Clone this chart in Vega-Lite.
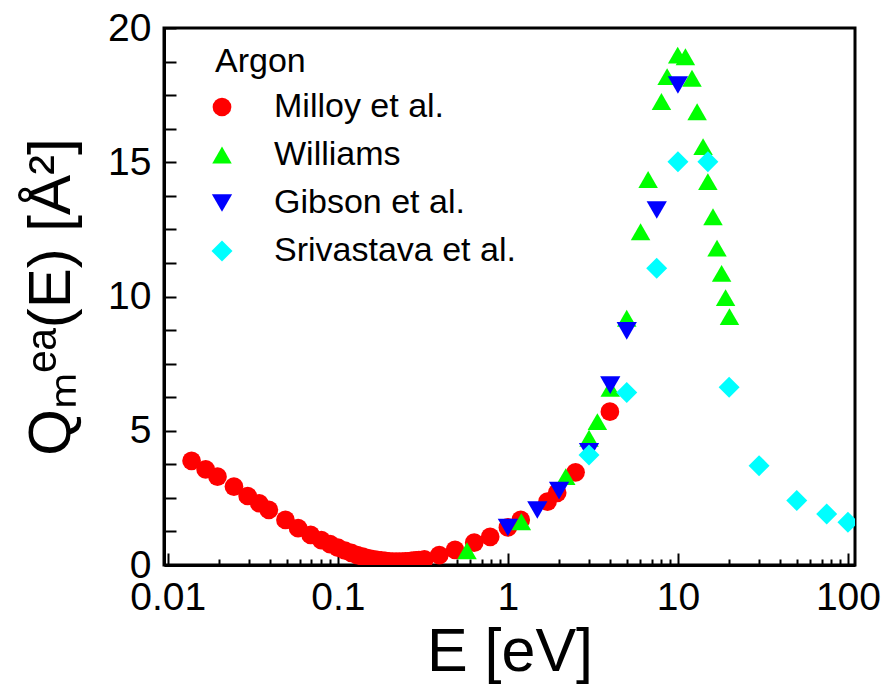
{
  "$schema": "https://vega.github.io/schema/vega-lite/v6.json",
  "width": 691,
  "height": 537,
  "autosize": {"type": "none"},
  "padding": {"left": 164, "top": 28, "right": 33, "bottom": 122},
  "background": "white",
  "config": {
    "font": "Liberation Sans",
    "view": {"stroke": "black", "strokeWidth": 3},
    "axis": {
      "domainColor": "black", "domainWidth": 3, "tickColor": "black", "tickWidth": 2,
      "labelColor": "black", "titleColor": "black", "labelFont": "Liberation Sans",
      "titleFont": "Liberation Sans", "grid": false, "zindex": 1,
      "labelFontSize": 39, "titleFontSize": 61, "titleFontWeight": "normal"
    },
    "legend": {
      "orient": "none", "legendX": 51, "legendY": 17, "padding": 0,
      "titleFont": "Liberation Sans", "labelFont": "Liberation Sans",
      "titleFontSize": 34, "titleFontWeight": "normal", "labelFontSize": 34,
      "titleColor": "black", "labelColor": "black", "labelLimit": 0, "titleLimit": 0,
      "labelOffset": 35, "symbolOffset": -10, "rowPadding": 14, "titlePadding": 11,
      "symbolStrokeWidth": 0
    }
  },
  "datasets": {
    "pts": [
      {"E": 0.0138, "Q": 3.88, "s": "Milloy et al."},
      {"E": 0.0167, "Q": 3.56, "s": "Milloy et al."},
      {"E": 0.0196, "Q": 3.29, "s": "Milloy et al."},
      {"E": 0.0245, "Q": 2.92, "s": "Milloy et al."},
      {"E": 0.0295, "Q": 2.57, "s": "Milloy et al."},
      {"E": 0.0345, "Q": 2.30, "s": "Milloy et al."},
      {"E": 0.0393, "Q": 2.05, "s": "Milloy et al."},
      {"E": 0.0492, "Q": 1.68, "s": "Milloy et al."},
      {"E": 0.0584, "Q": 1.37, "s": "Milloy et al."},
      {"E": 0.0692, "Q": 1.12, "s": "Milloy et al."},
      {"E": 0.080, "Q": 0.93, "s": "Milloy et al."},
      {"E": 0.090, "Q": 0.78, "s": "Milloy et al."},
      {"E": 0.100, "Q": 0.65, "s": "Milloy et al."},
      {"E": 0.110, "Q": 0.54, "s": "Milloy et al."},
      {"E": 0.120, "Q": 0.45, "s": "Milloy et al."},
      {"E": 0.130, "Q": 0.37, "s": "Milloy et al."},
      {"E": 0.140, "Q": 0.31, "s": "Milloy et al."},
      {"E": 0.150, "Q": 0.26, "s": "Milloy et al."},
      {"E": 0.160, "Q": 0.22, "s": "Milloy et al."},
      {"E": 0.170, "Q": 0.19, "s": "Milloy et al."},
      {"E": 0.180, "Q": 0.17, "s": "Milloy et al."},
      {"E": 0.190, "Q": 0.15, "s": "Milloy et al."},
      {"E": 0.200, "Q": 0.14, "s": "Milloy et al."},
      {"E": 0.210, "Q": 0.13, "s": "Milloy et al."},
      {"E": 0.220, "Q": 0.13, "s": "Milloy et al."},
      {"E": 0.230, "Q": 0.13, "s": "Milloy et al."},
      {"E": 0.240, "Q": 0.13, "s": "Milloy et al."},
      {"E": 0.250, "Q": 0.14, "s": "Milloy et al."},
      {"E": 0.260, "Q": 0.14, "s": "Milloy et al."},
      {"E": 0.270, "Q": 0.15, "s": "Milloy et al."},
      {"E": 0.280, "Q": 0.16, "s": "Milloy et al."},
      {"E": 0.290, "Q": 0.17, "s": "Milloy et al."},
      {"E": 0.300, "Q": 0.18, "s": "Milloy et al."},
      {"E": 0.323, "Q": 0.21, "s": "Milloy et al."},
      {"E": 0.395, "Q": 0.37, "s": "Milloy et al."},
      {"E": 0.489, "Q": 0.56, "s": "Milloy et al."},
      {"E": 0.634, "Q": 0.83, "s": "Milloy et al."},
      {"E": 0.787, "Q": 1.05, "s": "Milloy et al."},
      {"E": 1.0, "Q": 1.40, "s": "Milloy et al."},
      {"E": 1.19, "Q": 1.68, "s": "Milloy et al."},
      {"E": 1.71, "Q": 2.36, "s": "Milloy et al."},
      {"E": 1.95, "Q": 2.69, "s": "Milloy et al."},
      {"E": 2.5, "Q": 3.45, "s": "Milloy et al."},
      {"E": 3.98, "Q": 5.71, "s": "Milloy et al."},
      {"E": 0.575, "Q": 0.53, "s": "Williams"},
      {"E": 1.2, "Q": 1.61, "s": "Williams"},
      {"E": 2.19, "Q": 3.29, "s": "Williams"},
      {"E": 3.0, "Q": 4.72, "s": "Williams"},
      {"E": 3.36, "Q": 5.34, "s": "Williams"},
      {"E": 4.0, "Q": 6.58, "s": "Williams"},
      {"E": 5.0, "Q": 9.19, "s": "Williams"},
      {"E": 6.03, "Q": 12.41, "s": "Williams"},
      {"E": 6.68, "Q": 14.36, "s": "Williams"},
      {"E": 8.0, "Q": 17.26, "s": "Williams"},
      {"E": 8.64, "Q": 18.19, "s": "Williams"},
      {"E": 9.97, "Q": 18.99, "s": "Williams"},
      {"E": 11.07, "Q": 18.93, "s": "Williams"},
      {"E": 12.1, "Q": 18.13, "s": "Williams"},
      {"E": 12.97, "Q": 16.88, "s": "Williams"},
      {"E": 14.06, "Q": 15.58, "s": "Williams"},
      {"E": 15.0, "Q": 14.28, "s": "Williams"},
      {"E": 16.08, "Q": 12.97, "s": "Williams"},
      {"E": 16.98, "Q": 11.8, "s": "Williams"},
      {"E": 18.07, "Q": 10.86, "s": "Williams"},
      {"E": 19.07, "Q": 9.96, "s": "Williams"},
      {"E": 20.1, "Q": 9.25, "s": "Williams"},
      {"E": 1.0, "Q": 1.4, "s": "Gibson et al."},
      {"E": 1.49, "Q": 2.05, "s": "Gibson et al."},
      {"E": 2.0, "Q": 2.77, "s": "Gibson et al."},
      {"E": 3.0, "Q": 4.22, "s": "Gibson et al."},
      {"E": 4.0, "Q": 6.70, "s": "Gibson et al."},
      {"E": 5.0, "Q": 8.72, "s": "Gibson et al."},
      {"E": 7.51, "Q": 13.22, "s": "Gibson et al."},
      {"E": 10.0, "Q": 17.88, "s": "Gibson et al."},
      {"E": 3.0, "Q": 4.10, "s": "Srivastava et al."},
      {"E": 5.0, "Q": 6.42, "s": "Srivastava et al."},
      {"E": 7.5, "Q": 11.05, "s": "Srivastava et al."},
      {"E": 10.0, "Q": 15.02, "s": "Srivastava et al."},
      {"E": 15.0, "Q": 15.02, "s": "Srivastava et al."},
      {"E": 20.0, "Q": 6.62, "s": "Srivastava et al."},
      {"E": 30.0, "Q": 3.70, "s": "Srivastava et al."},
      {"E": 50.0, "Q": 2.40, "s": "Srivastava et al."},
      {"E": 75.0, "Q": 1.90, "s": "Srivastava et al."},
      {"E": 100.0, "Q": 1.59, "s": "Srivastava et al."}
    ]
  },
  "resolve": {"axis": {"x": "independent", "y": "independent"}},
  "layer": [
    {
      "data": {"name": "pts"},
      "mark": {"type": "point", "filled": true, "opacity": 1, "clip": true, "strokeWidth": 0},
      "encoding": {
        "x": {
          "field": "E", "type": "quantitative",
          "scale": {"type": "log", "domain": [0.0095, 110], "nice": false},
          "axis": {
            "orient": "bottom", "values": [0.01, 0.1, 1, 10, 100], "format": "~g",
            "tickSize": -12, "labelPadding": 25, "title": "E [eV]", "titlePadding": 5,
            "labelFlush": false, "labelOverlap": false
          }
        },
        "y": {
          "field": "Q", "type": "quantitative",
          "scale": {"domain": [0, 20], "nice": false, "zero": false},
          "axis": {
            "orient": "left",
            "values": [0, 1.25, 2.5, 3.75, 5, 6.25, 7.5, 8.75, 10, 11.25, 12.5, 13.75, 15, 16.25, 17.5, 18.75, 20],
            "labelExpr": "datum.value % 5 == 0 ? format(datum.value, 'd') : ''",
            "tickSize": -12, "labelPadding": 25, "title": "Qₘᵉᵃ(E) [Å²]", "titlePadding": 25,
            "titleFontSize": 60,
            "labelFlush": false, "labelOverlap": false
          }
        },
        "color": {
          "field": "s", "type": "nominal", "title": "Argon",
          "scale": {"domain": ["Milloy et al.", "Williams", "Gibson et al.", "Srivastava et al."], "range": ["#ff0000", "#00ff00", "#0000ff", "#00ffff"]}
        },
        "shape": {
          "field": "s", "type": "nominal", "title": "Argon",
          "scale": {"domain": ["Milloy et al.", "Williams", "Gibson et al.", "Srivastava et al."], "range": ["circle", "triangle-up", "triangle-down", "diamond"]}
        },
        "size": {
          "field": "s", "type": "nominal", "title": "Argon",
          "scale": {"domain": ["Milloy et al.", "Williams", "Gibson et al.", "Srivastava et al."], "range": [350, 441, 441, 470]}
        }
      }
    },
    {
      "data": {"name": "pts"},
      "mark": {"type": "point", "opacity": 0},
      "encoding": {
        "x": {
          "field": "E", "type": "quantitative",
          "axis": {
            "orient": "bottom",
            "values": [0.02, 0.03, 0.04, 0.05, 0.06, 0.07, 0.08, 0.09, 0.2, 0.3, 0.4, 0.5, 0.6, 0.7, 0.8, 0.9, 2, 3, 4, 5, 6, 7, 8, 9, 20, 30, 40, 50, 60, 70, 80, 90],
            "labels": false, "domain": false, "tickSize": -6, "tickWidth": 2, "title": null
          }
        },
        "y": {"field": "Q", "type": "quantitative", "axis": null}
      }
    }
  ]
}
